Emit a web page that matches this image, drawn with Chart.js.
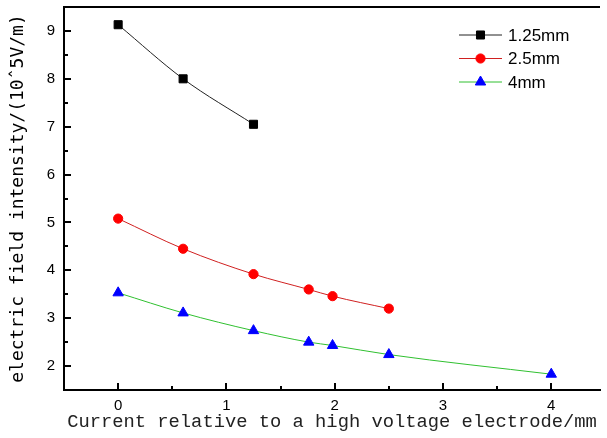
<!DOCTYPE html>
<html lang="en">
<head>
    <meta charset="UTF-8">
    <title>Electric field intensity vs distance</title>
    <script src="https://cdn.jsdelivr.net/npm/chart.js"></script>
    <style>
        body { margin: 0; padding: 0; background: #fff; }
        canvas { display: block; }
    </style>
</head>
<body>
    <canvas id="myChart" width="607" height="438"></canvas>

    <script>
        // data
        const seriesNames = ['1.25mm', '2.5mm', '4mm'];
        const x125 = [0, 0.6, 1.25];
        const y125 = [9.13, 8.0, 7.05];
        const x25 = [0, 0.6, 1.25, 1.76, 1.98, 2.5];
        const y25 = [5.08, 4.45, 3.92, 3.60, 3.46, 3.20];
        const x4 = [0, 0.6, 1.25, 1.76, 1.98, 2.5, 4];
        const y4 = [3.53, 3.11, 2.74, 2.50, 2.43, 2.24, 1.83];
        const xTicks = [0, 1, 2, 3, 4];
        const yTicks = [2, 3, 4, 5, 6, 7, 8, 9];

        function toPoints(xs, ys) {
            return xs.map((x, i) => ({ x: x, y: ys[i] }));
        }

        const datasets = [
            { label: seriesNames[0], data: toPoints(x125, y125), borderColor: '#222', backgroundColor: '#000',
              pointBorderColor: '#000', pointStyle: 'rect', pointRadius: 5.7 },
            { label: seriesNames[1], data: toPoints(x25, y25), borderColor: '#d02020', backgroundColor: '#ff0000',
              pointBorderColor: '#ff0000', pointStyle: 'circle', pointRadius: 4.6 },
            { label: seriesNames[2], data: toPoints(x4, y4), borderColor: '#30c030', backgroundColor: '#0000ff',
              pointBorderColor: '#0000ff', pointStyle: 'triangle', pointRadius: 6 }
        ].map(d => Object.assign(d, {
            showLine: true,
            borderWidth: 1,
            pointBorderWidth: 1,
            pointBackgroundColor: d.backgroundColor,
            cubicInterpolationMode: 'monotone'
        }));

        // frame top line, inward ticks and the legend
        const frameAndLegend = {
            id: 'frameAndLegend',
            afterDraw: chart => {
                const ctx = chart.ctx;
                const area = chart.chartArea;
                const xs = chart.scales.x, ys = chart.scales.y;
                ctx.save();
                ctx.strokeStyle = '#000';
                ctx.lineWidth = 2;
                ctx.beginPath();
                ctx.moveTo(area.left - 1, area.top);
                ctx.lineTo(area.right, area.top);
                ctx.stroke();

                ctx.lineWidth = 2;
                ctx.beginPath();
                for (let v = -0.5; v <= xs.max; v += 0.5) {
                    if (v <= xs.min) continue;
                    const px = Math.round(xs.getPixelForValue(v));
                    const len = Number.isInteger(v) ? 7 : 4;
                    ctx.moveTo(px, area.bottom);
                    ctx.lineTo(px, area.bottom - len);
                }
                for (let v = 2; v < ys.max; v += 0.5) {
                    const py = Math.round(ys.getPixelForValue(v));
                    const len = Number.isInteger(v) ? 7 : 4;
                    ctx.moveTo(area.left, py);
                    ctx.lineTo(area.left + len, py);
                }
                ctx.stroke();

                chart.data.datasets.forEach((ds, i) => {
                    const y = 35 + i * 23.5;
                    ctx.strokeStyle = ds.borderColor;
                    ctx.lineWidth = 1;
                    ctx.beginPath();
                    ctx.moveTo(459, y);
                    ctx.lineTo(502, y);
                    ctx.stroke();
                    ctx.fillStyle = ds.backgroundColor;
                    ctx.strokeStyle = ds.pointBorderColor;
                    Chart.helpers.drawPoint(ctx, {
                        pointStyle: ds.pointStyle, radius: ds.pointRadius, rotation: 0, borderWidth: 1
                    }, 480.5, y);
                    ctx.fillStyle = '#000';
                    ctx.font = '17px "Liberation Sans", Arial, sans-serif';
                    ctx.textAlign = 'left';
                    ctx.textBaseline = 'middle';
                    ctx.fillText(ds.label, 508, y + 1);
                });
                ctx.restore();
            }
        };

        new Chart(document.getElementById('myChart').getContext('2d'), {
            type: 'scatter',
            data: { datasets: datasets },
            options: {
                responsive: false,
                animation: false,
                layout: { padding: { top: 7, right: 0, bottom: 0, left: 0 } },
                plugins: {
                    legend: { display: false },
                    tooltip: { enabled: false }
                },
                scales: {
                    x: {
                        type: 'linear',
                        min: -0.5,
                        max: 4.45,
                        afterBuildTicks: s => { s.ticks = xTicks.map(v => ({ value: v })); },
                        afterFit: s => { s.height = 48; s.paddingLeft = 0; s.paddingRight = 0; },
                        grid: { display: false, drawTicks: false },
                        border: { display: true, color: '#000', width: 2 },
                        ticks: {
                            color: '#000',
                            padding: 7,
                            font: { family: '"Liberation Sans", Arial, sans-serif', size: 15 }
                        },
                        title: {
                            display: true,
                            text: 'Current relative to a high voltage electrode/mm',
                            color: '#222',
                            font: { family: '"Liberation Mono", "Courier New", monospace', size: 18.8 },
                            padding: { top: 0, bottom: 5 }
                        }
                    },
                    y: {
                        type: 'linear',
                        min: 1.5,
                        max: 9.5,
                        afterBuildTicks: s => { s.ticks = yTicks.map(v => ({ value: v })); },
                        afterFit: s => { s.width = 64; s.paddingTop = 0; s.paddingBottom = 0; },
                        grid: { display: false, drawTicks: false },
                        border: { display: true, color: '#000', width: 2 },
                        ticks: {
                            color: '#000',
                            padding: 9,
                            font: { family: '"Liberation Sans", Arial, sans-serif', size: 15 }
                        },
                        title: {
                            display: true,
                            text: 'electric field intensity/(10ˆ5V/m)',
                            color: '#000',
                            font: { family: '"DejaVu Sans Mono", monospace', size: 18 },
                            padding: { top: 8, bottom: 0 }
                        }
                    }
                }
            },
            plugins: [frameAndLegend]
        });
    </script>
</body>
</html>
